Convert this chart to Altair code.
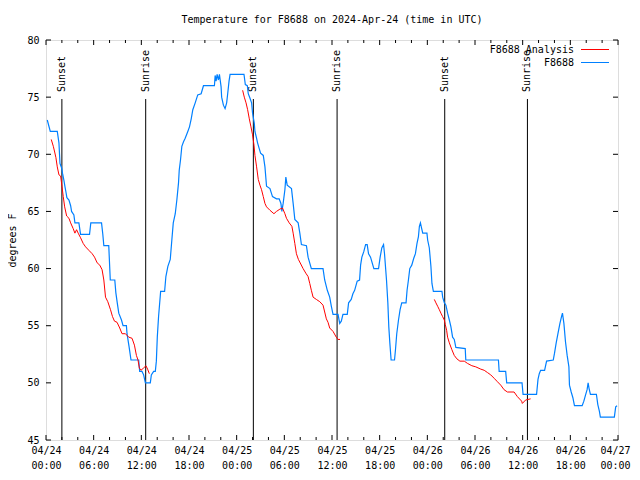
import altair as alt
import pandas as pd

FONT = "DejaVu Sans Mono"
TITLE = "Temperature for F8688 on 2024-Apr-24 (time in UTC)"
Y_TITLE = "degrees F"
START = pd.Timestamp("2024-04-24", tz="UTC")

# observed series F8688: (hours since 04/24 00:00 UTC, degrees F)
obs = [(0.16,73.0),(0.54,72.0),(1.42,72.0),(1.63,71.0),(1.76,69.2),(1.97,68.8),(2.09,68.3),(2.26,67.7),
       (2.38,67.2),(2.51,66.7),(2.63,66.2),(2.89,66.0),(3.10,65.5),(3.22,65.0),(3.51,64.7),(3.64,64.0),
       (4.14,64.0),(4.35,63.0),(5.48,63.0),(5.64,64.0),(6.99,64.0),(7.15,63.0),(7.28,62.0),(7.90,62.0),
       (8.09,59.0),(8.66,59.0),(8.79,57.9),(8.97,57.0),(9.16,56.1),(9.50,55.5),(9.70,55.0),(10.12,55.0),
       (10.20,54.3),(10.45,53.2),(10.70,52.0),(11.67,52.0),(11.79,51.0),(12.08,51.0),(12.29,50.7),(12.51,50.0),
       (13.13,50.0),(13.26,50.7),(13.55,51.0),(13.76,51.0),(13.89,51.9),(14.01,54.0),(14.17,55.8),(14.43,58.0),
       (14.93,58.0),(15.09,59.3),(15.34,60.2),(15.64,60.8),(15.84,62.5),(16.02,64.0),(16.27,64.8),(16.47,66.0),
       (16.68,67.5),(16.77,68.6),(16.93,69.5),(17.10,70.7),(17.31,71.1),(17.52,71.4),(17.85,72.0),(18.06,72.4),
       (18.28,73.1),(18.48,73.9),(18.78,74.5),(19.10,75.2),(19.53,75.3),(19.82,76.0),(21.20,76.0),(21.29,76.9),
       (21.41,76.4),(21.54,77.0),(21.70,76.5),(21.83,77.0),(22.04,75.9),(22.11,75.0),(22.33,74.3),(22.54,74.0),
       (22.74,74.5),(22.87,75.3),(23.04,76.4),(23.17,77.0),(24.92,77.0),(25.09,76.1),(25.34,76.0),(25.46,75.3),
       (25.68,74.9),(25.88,74.5),(26.00,73.6),(26.22,72.7),(26.30,72.0),(26.51,71.4),(26.63,71.0),(26.84,70.5),
       (27.01,70.1),(27.35,69.9),(27.56,68.9),(27.76,67.2),(28.19,67.0),(28.51,66.3),(29.01,66.1),(29.35,66.1),
       (29.57,65.7),(29.69,65.0),(29.85,65.7),(30.07,66.9),(30.19,68.0),(30.36,67.3),(30.90,67.0),(31.11,65.7),
       (31.32,64.3),(31.74,64.0),(31.95,63.1),(32.15,62.1),(32.78,62.0),(32.99,61.0),(33.40,60.0),(34.87,60.0),
       (35.08,59.0),(35.41,58.1),(35.71,57.5),(35.92,56.7),(36.13,56.0),(36.76,56.0),(36.97,55.2),(37.17,55.4),
       (37.38,56.0),(37.92,56.0),(38.09,57.0),(38.42,57.3),(38.63,57.8),(38.85,58.1),(39.17,58.9),(39.47,59.0),
       (39.60,60.3),(39.76,61.0),(40.01,61.5),(40.23,62.1),(40.43,62.1),(40.60,61.3),(40.85,61.0),(41.06,60.5),
       (41.27,60.0),(41.86,60.0),(42.06,61.0),(42.27,61.8),(42.49,62.1),(42.61,61.3),(42.86,59.0),(43.03,57.0),
       (43.15,54.9),(43.28,53.5),(43.44,52.0),(43.87,52.0),(43.99,52.9),(44.15,54.3),(44.37,55.5),(44.57,56.4),
       (44.78,57.0),(45.32,57.0),(45.45,58.1),(45.62,59.0),(45.79,60.0),(46.04,60.3),(46.29,60.9),(46.50,61.3),
       (46.70,62.2),(46.88,62.8),(47.00,63.7),(47.13,64.0),(47.29,63.5),(47.42,63.1),(47.95,63.1),(48.04,62.5),
       (48.25,61.8),(48.45,60.2),(48.58,58.7),(48.76,58.0),(49.84,58.0),(49.93,57.5),(50.14,57.0),(50.34,56.8),
       (50.55,56.1),(50.77,55.5),(50.97,54.9),(51.18,54.0),(51.39,53.8),(51.59,53.1),(52.77,53.0),(52.84,52.0),
       (56.95,52.0),(57.04,51.0),(57.86,51.0),(57.99,50.0),(59.92,50.0),(60.05,49.0),(61.75,49.0),(61.93,50.3),
       (62.09,50.8),(62.26,51.1),(62.76,51.1),(63.01,51.9),(63.85,52.0),(64.01,52.6),(64.22,53.5),(64.44,54.3),
       (64.69,55.2),(64.89,55.8),(65.01,56.1),(65.19,55.2),(65.39,53.6),(65.60,52.4),(65.82,51.4),(65.89,49.8),
       (66.11,49.2),(66.32,48.7),(66.52,48.0),(67.49,48.0),(67.70,48.4),(67.90,48.9),(68.11,49.4),(68.24,50.0),
       (68.36,49.5),(68.53,49.0),(69.28,49.0),(69.46,48.1),(69.66,47.5),(69.78,47.0),(71.54,47.0),(71.71,47.9),
       (71.88,48.0)]

# analysis series, three overnight segments
ana_1 = [(0.66,71.3),(0.92,70.7),(1.09,70.2),(1.25,69.7),(1.42,68.9),(1.63,68.2),(1.84,68.1),(2.01,67.2),
         (2.17,66.3),(2.35,65.4),(2.60,64.6),(2.89,64.4),(3.10,64.0),(3.42,63.5),(3.64,63.1),(3.85,63.4),
         (4.05,63.1),(4.35,62.7),(4.68,62.2),(4.98,61.9),(5.39,61.6),(5.81,61.3),(6.11,61.0),(6.44,60.5),
         (6.77,60.3),(7.06,59.9),(7.28,59.0),(7.49,57.5),(7.78,57.1),(8.12,56.4),(8.37,55.8),(8.62,55.4),
         (8.94,55.3),(9.28,54.8),(9.57,54.3),(10.00,54.3),(10.41,54.0),(10.83,53.9),(11.13,53.3),(11.38,52.4),
         (11.58,52.0),(11.75,51.3),(11.95,51.1),(12.29,51.3),(12.58,51.5),(12.79,51.2),(13.01,50.8)]
ana_2 = [(24.75,75.6),(24.96,75.0),(25.18,74.5),(25.38,73.9),(25.59,73.1),(25.80,72.4),(26.00,71.7),(26.18,70.8),
         (26.30,69.9),(26.51,68.9),(26.72,67.8),(26.93,67.3),(27.13,66.9),(27.35,66.3),(27.56,65.7),(27.76,65.4),
         (28.19,65.1),(28.69,64.8),(29.01,65.0),(29.44,65.2),(29.77,65.3),(30.07,64.8),(30.27,64.4),(30.61,64.0),
         (30.95,63.7),(31.11,63.1),(31.32,62.2),(31.52,61.3),(31.77,60.8),(32.07,60.4),(32.36,60.0),(32.70,59.6),
         (32.99,59.3),(33.20,58.7),(33.40,58.1),(33.62,57.5),(34.03,57.3),(34.46,57.1),(34.87,56.8),(35.08,56.2),
         (35.29,55.6),(35.50,55.3),(35.71,54.8),(36.13,54.5),(36.54,54.0),(36.76,53.8),(37.01,53.8)]
ana_3 = [(48.88,57.3),(49.08,57.0),(49.30,56.7),(49.51,56.4),(49.71,56.1),(49.92,55.8),(50.14,55.5),(50.26,55.1),
         (50.43,54.6),(50.55,54.0),(50.77,53.5),(51.09,52.9),(51.39,52.4),(51.72,52.1),(52.10,51.9),(52.65,51.9),
         (53.06,51.7),(53.60,51.5),(54.10,51.4),(54.73,51.2),(55.16,51.1),(55.57,50.9),(55.98,50.7),(56.41,50.4),
         (56.82,50.1),(57.24,49.8),(57.66,49.4),(58.08,49.2),(58.92,49.2),(59.33,48.8),(59.87,48.4),(59.96,48.2),
         (60.37,48.5),(61.00,48.6)]

sun_hours = [2.0, 12.55, 26.1, 36.64, 50.19, 60.6]
sun_labels = ["Sunset", "Sunrise", "Sunset", "Sunrise", "Sunset", "Sunrise"]

series_names = ["F8688 Analysis", "F8688"]
series_colors = ["#ff0000", "#0080ff"]

y_ticks = [45, 50, 55, 60, 65, 70, 75, 80]
x_label_hours = [0, 6, 12, 18, 24, 30, 36, 42, 48, 54, 60, 66, 72]
x_minor_hours = [h for h in range(0, 73, 2) if h % 6 != 0]


def ms(h):
    return int(START.value // 10**6 + h * 3600000)


obs_df = pd.DataFrame({"t": [ms(h) for h, _ in obs], "temp": [v for _, v in obs]})
ana_rows = []
for seg, pts in enumerate([ana_1, ana_2, ana_3]):
    for h, v in pts:
        ana_rows.append({"t": ms(h), "temp": v, "seg": seg})
ana_df = pd.DataFrame(ana_rows)
sun_df = pd.DataFrame({"t": [ms(h) for h in sun_hours], "label": sun_labels})
ytick_df = pd.DataFrame({"temp": y_ticks})
xmaj_df = pd.DataFrame({"t": [ms(h) for h in x_label_hours]})
xmin_df = pd.DataFrame({"t": [ms(h) for h in x_minor_hours]})

W, H = 572, 400
PAD_L, PAD_T = 38, 32

X = alt.X(
    "t:T",
    scale=alt.Scale(type="utc", domain=[ms(0), ms(72)]),
    axis=alt.Axis(
        values=[ms(h) for h in x_label_hours],
        labelExpr="[utcFormat(datum.value, '%m/%d'), utcFormat(datum.value, '%H:%M')]",
        ticks=False, domain=False, grid=False, title=None,
        labelPadding=5, labelFontSize=10, labelFont=FONT, labelLineHeight=15,
        labelAngle=0, labelFlush=False, labelOverlap=False, labelColor="black",
        labelOffset={"condition": {"test": f"datum.value >= {ms(72)}", "value": -3}, "value": 0},
    ),
)
Y = alt.Y(
    "temp:Q",
    scale=alt.Scale(domain=[45, 80], nice=False, zero=False),
    axis=alt.Axis(
        values=y_ticks, ticks=False, domain=False, grid=False,
        title=Y_TITLE, titleFont=FONT, titleFontSize=10, titleFontWeight="normal",
        titleColor="black", titlePadding=9,
        labelPadding=7, labelFontSize=10, labelFont=FONT, labelColor="black",
    ),
)

layers = []

# inward tick marks (left/right for y, bottom/top for x)
layers.append(alt.Chart(ytick_df).mark_rule(color="black", strokeWidth=1).encode(
    y=Y, x=alt.value(0), x2=alt.value(5)))
layers.append(alt.Chart(ytick_df).mark_rule(color="black", strokeWidth=1).encode(
    y=Y, x=alt.value(W - 5), x2=alt.value(W)))
layers.append(alt.Chart(xmaj_df).mark_rule(color="black", strokeWidth=1).encode(
    x=X, y=alt.value(H - 5), y2=alt.value(H)))
layers.append(alt.Chart(xmaj_df).mark_rule(color="black", strokeWidth=1).encode(
    x=X, y=alt.value(0), y2=alt.value(5)))
layers.append(alt.Chart(xmin_df).mark_rule(color="black", strokeWidth=1).encode(
    x=X, y=alt.value(H - 3), y2=alt.value(H)))
layers.append(alt.Chart(xmin_df).mark_rule(color="black", strokeWidth=1).encode(
    x=X, y=alt.value(0), y2=alt.value(3)))

# sunrise / sunset markers
layers.append(alt.Chart(sun_df).mark_rule(color="black", strokeWidth=1).encode(
    x=X, y=alt.value(59), y2=alt.value(H)))
layers.append(alt.Chart(sun_df).mark_text(
    angle=270, align="left", baseline="middle", font=FONT, fontSize=10, color="black"
).encode(x=X, y=alt.value(52), text="label:N"))

# data lines
layers.append(alt.Chart(obs_df).mark_line(color=series_colors[1], strokeWidth=1.2).encode(
    x=X, y=Y))
layers.append(alt.Chart(ana_df).mark_line(color=series_colors[0], strokeWidth=1).encode(
    x=X, y=Y, detail="seg:N"))

# key (top right, gnuplot style)
for i, (name, col) in enumerate(zip(series_names, series_colors)):
    yy = 9.5 + i * 13
    layers.append(alt.Chart(pd.DataFrame({"name": [name]})).mark_text(
        align="right", baseline="middle", font=FONT, fontSize=10, color="black"
    ).encode(x=alt.value(528), y=alt.value(yy), text="name:N"))
    layers.append(alt.Chart(pd.DataFrame({"name": [name]})).mark_rule(
        color=col, strokeWidth=1
    ).encode(x=alt.value(535), x2=alt.value(563), y=alt.value(yy)))

# chart title, centred above the plot
layers.append(alt.Chart(pd.DataFrame({"title": [TITLE]})).mark_text(
    align="center", baseline="alphabetic", font=FONT, fontSize=10, color="black"
).encode(x=alt.value(W / 2), y=alt.value(-17), text="title:N"))

chart = alt.layer(*layers).properties(
    width=W, height=H,
    autosize=alt.AutoSizeParams(type="none"),
    padding={"left": PAD_L, "top": PAD_T, "right": 14, "bottom": 32},
).configure_view(stroke="black", strokeWidth=1).configure(background="white")

chart.save("out.html", embed_options={"renderer": "svg", "actions": False})
